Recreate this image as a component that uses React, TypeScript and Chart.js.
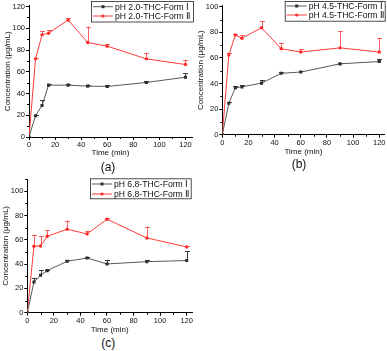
import React, { useEffect, useRef } from 'react';
import { Chart, registerables } from 'chart.js';

Chart.register(...registerables);

// ---------- data ----------
const times = [0, 5, 10, 15, 30, 45, 60, 90, 120];
const xTickValues = [0, 20, 40, 60, 80, 100, 120];
const xMinorTicks = [10, 30, 50, 70, 90, 110];

const phA = '2.0';
const aForm1 = [0, 19.6, 29, 47.7, 47.7, 46.8, 46.5, 50.2, 55];
const aForm1Err = [0, 1, 4.7, 1, 1, 1.5, 1, 1.2, 3.8];
const aForm2 = [0, 71.9, 94, 95.5, 107.7, 86.9, 83.6, 71.9, 66.7];
const aForm2Err = [0, 1, 3.6, 3, 1.6, 14.7, 2.1, 5.5, 4.3];
const aYTicks = [0, 20, 40, 60, 80, 100, 120];
const aYMinor = [10, 30, 50, 70, 90, 110];

const phB = '4.5';
const bForm1 = [0, 24.6, 36.7, 37.4, 40.3, 48, 49, 55.4, 57.2];
const bForm1Err = [0, 1, 1.5, 1.3, 2.3, 0.8, 0.8, 0.8, 1.8];
const bForm2 = [0, 62.3, 78, 75.4, 83.6, 67.2, 64.6, 67.9, 64.6];
const bForm2Err = [0, 1.5, 0.8, 2.6, 5.1, 4.6, 2.3, 13.1, 10.8];
const bYTicks = [0, 20, 40, 60, 80, 100];
const bYMinor = [10, 30, 50, 70, 90];

const phC = '6.8';
const cForm1 = [0, 25.3, 30.8, 34.6, 42.3, 45, 40.1, 42, 42.9];
const cForm1Err = [0, 3.5, 4.1, 0.8, 0.8, 0.8, 3.3, 1.1, 7.6];
const cForm2 = [0, 54.7, 54.9, 62.9, 68.7, 64.8, 76.9, 61.5, 54.1];
const cForm2Err = [0, 9.6, 8.3, 5, 7.1, 2.2, 1, 9.4, 1];
const cYTicks = [0, 20, 40, 60, 80, 100];
const cYMinor = [10, 30, 50, 70, 90, 110];

const xTitle = 'Time (min)';
const yTitle = 'Concentration (μg/mL)';

// ---------- styles ----------
const FONT = "'Liberation Sans', Arial, Helvetica, sans-serif";
const GRAY_LINE = '#5a5a5a';
const GRAY_PT = '#2e2e2e';
const GRAY_ERR = '#3a3a3a';
const RED_LINE = '#ff3c3c';
const RED_PT = '#ff2a2a';
const RED_ERR = 'rgba(255,70,70,0.85)';

type Panel = {
  tag: string; ph: string;
  left: number; top: number; w: number; h: number;
  area: { l: number; t: number; r: number; b: number };
  xTitleY: number; yTitleX: number;
  xMax: number; yMax: number;
  yTicks: number[]; yMinor: number[];
  f1: number[]; f1e: number[]; f2: number[]; f2e: number[];
  legend: { x: number; y: number; w: number; h: number; rows: number[] };
  tagPos: { x: number; y: number };
};

const panels: Panel[] = [
  {
    tag: '(a)', ph: phA, left: 0, top: 0, w: 195, h: 160,
    area: { l: 29, t: 5, r: 192, b: 137 }, xTitleY: 152.7, yTitleX: 8,
    xMax: 125, yMax: 121, yTicks: aYTicks, yMinor: aYMinor,
    f1: aForm1, f1e: aForm1Err, f2: aForm2, f2e: aForm2Err,
    legend: { x: 91, y: 1, w: 103, h: 21.5, rows: [6.7, 16] },
    tagPos: { x: 108, y: 166.7 },
  },
  {
    tag: '(b)', ph: phB, left: 193, top: 0, w: 194, h: 160,
    area: { l: 29.3, t: 3.4, r: 191.5, b: 134.7 }, xTitleY: 151.7, yTitleX: 7.3,
    xMax: 124, yMax: 101, yTicks: bYTicks, yMinor: bYMinor,
    f1: bForm1, f1e: bForm1Err, f2: bForm2, f2e: bForm2Err,
    legend: { x: 91.7, y: 1, w: 101, h: 20.7, rows: [6, 15] },
    tagPos: { x: 299, y: 164.3 },
  },
  {
    tag: '(c)', ph: phC, left: 0, top: 170, w: 195, h: 165,
    area: { l: 27.3, t: 9, r: 192, b: 142.7 }, xTitleY: 159.3, yTitleX: 5.5,
    xMax: 124, yMax: 110, yTicks: cYTicks, yMinor: cYMinor,
    f1: cForm1, f1e: cForm1Err, f2: cForm2, f2e: cForm2Err,
    legend: { x: 90, y: 8.3, w: 101.7, h: 21, rows: [14, 24] },
    tagPos: { x: 108.3, y: 343.3 },
  },
];

// ---------- plugins ----------
const errorBarsPlugin = {
  id: 'errorBars',
  beforeDatasetsDraw(chart: any) {
    const ctx = chart.ctx;
    const yScale = chart.scales.y;
    chart.data.datasets.forEach((ds: any, di: number) => {
      const meta = chart.getDatasetMeta(di);
      if (!ds.errors) return;
      ctx.save();
      ctx.strokeStyle = ds.errColor;
      ctx.lineWidth = 1;
      meta.data.forEach((pt: any, i: number) => {
        const e = ds.errors[i];
        if (!e) return;
        const v = ds.data[i].y;
        const yTop = yScale.getPixelForValue(v + e);
        const x = Math.round(pt.x) + 0.5;
        ctx.beginPath();
        ctx.moveTo(x, pt.y);
        ctx.lineTo(x, yTop);
        ctx.moveTo(x - 2.5, Math.round(yTop) + 0.5);
        ctx.lineTo(x + 2.5, Math.round(yTop) + 0.5);
        ctx.stroke();
      });
      ctx.restore();
    });
  },
};

const minorTicksPlugin = {
  id: 'minorTicks',
  afterDraw(chart: any, _args: any, opts: any) {
    const ctx = chart.ctx;
    const { x, y } = chart.scales;
    const area = chart.chartArea;
    ctx.save();
    ctx.strokeStyle = '#000';
    ctx.lineWidth = 1;
    ctx.beginPath();
    (opts.x || []).forEach((v: number) => {
      const px = Math.round(x.getPixelForValue(v)) + 0.5;
      ctx.moveTo(px, area.bottom);
      ctx.lineTo(px, area.bottom + 2);
    });
    (opts.y || []).forEach((v: number) => {
      const py = Math.round(y.getPixelForValue(v)) + 0.5;
      ctx.moveTo(area.left, py);
      ctx.lineTo(area.left - 2, py);
    });
    ctx.stroke();
    ctx.restore();
  },
};

const boxLegendPlugin = {
  id: 'boxLegend',
  afterDraw(chart: any, _args: any, opts: any) {
    const ctx = chart.ctx;
    const b = opts.box;
    if (!b) return;
    ctx.save();
    ctx.fillStyle = '#fff';
    ctx.fillRect(b.x, b.y, b.w, b.h);
    ctx.strokeStyle = '#222';
    ctx.lineWidth = 0.8;
    ctx.strokeRect(b.x + 0.5, b.y + 0.5, b.w - 1, b.h - 1);
    chart.data.datasets.forEach((ds: any, i: number) => {
      const ry = b.rows[i];
      const x0 = b.x + 2;
      const x1 = b.x + 22;
      ctx.strokeStyle = ds.borderColor;
      ctx.lineWidth = 1;
      ctx.beginPath();
      ctx.moveTo(x0, ry);
      ctx.lineTo(x1, ry);
      ctx.stroke();
      const mx = (x0 + x1) / 2;
      ctx.fillStyle = ds.pointBackgroundColor;
      if (ds.pointStyle === 'rect') {
        ctx.fillRect(mx - 1.5, ry - 1.5, 3, 3);
      } else {
        ctx.beginPath();
        ctx.arc(mx, ry, 1.6, 0, Math.PI * 2);
        ctx.fill();
      }
      ctx.fillStyle = '#111';
      ctx.font = `8.6px ${FONT}`;
      ctx.textBaseline = 'middle';
      ctx.textAlign = 'left';
      ctx.fillText(ds.label, x1 + 2, ry + 0.5);
    });
    ctx.restore();
  },
};

function buildConfig(p: Panel): any {
  const titleLH = 9.6;
  const xh = p.xTitleY + titleLH / 2 - p.area.b;
  const tickFont = { family: FONT, size: 7.5 };
  const titleFont = { family: FONT, size: 8 };
  return {
    type: 'line',
    data: {
      datasets: [
        {
          label: `pH ${p.ph}-THC-Form Ⅰ`,
          data: times.map((t, i) => ({ x: t, y: p.f1[i] })),
          errors: p.f1e,
          errColor: GRAY_ERR,
          borderColor: GRAY_LINE,
          borderWidth: 1,
          pointStyle: 'rect',
          pointRadius: 2.2,
          pointBorderWidth: 0,
          pointBackgroundColor: GRAY_PT,
          tension: 0,
        },
        {
          label: `pH ${p.ph}-THC-Form Ⅱ`,
          data: times.map((t, i) => ({ x: t, y: p.f2[i] })),
          errors: p.f2e,
          errColor: RED_ERR,
          borderColor: RED_LINE,
          borderWidth: 1,
          pointStyle: 'circle',
          pointRadius: 1.7,
          pointBorderWidth: 0,
          pointBackgroundColor: RED_PT,
          tension: 0,
        },
      ],
    },
    options: {
      responsive: false,
      animation: false,
      events: [],
      layout: {
        autoPadding: false,
        padding: { left: 0, top: p.area.t, right: p.w - p.area.r, bottom: p.h - p.area.b - xh },
      },
      plugins: {
        legend: { display: false },
        tooltip: { enabled: false },
        boxLegend: { box: p.legend },
        minorTicks: { x: xMinorTicks, y: p.yMinor },
      },
      scales: {
        x: {
          type: 'linear',
          min: 0,
          max: p.xMax,
          afterBuildTicks: (s: any) => { s.ticks = xTickValues.map((v) => ({ value: v })); },
          afterFit: (s: any) => { s.height = xh; },
          ticks: { font: tickFont, color: '#111', padding: 0.5, maxRotation: 0, autoSkip: false },
          grid: { drawOnChartArea: false, drawTicks: true, tickLength: 3, tickColor: '#000', tickWidth: 1 },
          border: { display: true, color: '#000', width: 1 },
          title: { display: true, text: xTitle, font: titleFont, color: '#111', padding: { top: 0, bottom: 0 } },
        },
        y: {
          type: 'linear',
          min: 0,
          max: p.yMax,
          afterBuildTicks: (s: any) => { s.ticks = p.yTicks.map((v) => ({ value: v })); },
          afterFit: (s: any) => { s.width = p.area.l; },
          ticks: { font: tickFont, color: '#111', padding: 1 },
          grid: { drawOnChartArea: false, drawTicks: true, tickLength: 3, tickColor: '#000', tickWidth: 1 },
          border: { display: true, color: '#000', width: 1 },
          title: { display: true, text: yTitle, font: titleFont, color: '#111', padding: { top: Math.max(0, p.yTitleX - titleLH / 2), bottom: 0 } },
        },
      },
    },
    plugins: [errorBarsPlugin, minorTicksPlugin, boxLegendPlugin],
  };
}

function PanelChart({ p }: { p: Panel }) {
  const ref = useRef<HTMLCanvasElement | null>(null);
  useEffect(() => {
    if (!ref.current) return;
    const chart = new Chart(ref.current, buildConfig(p));
    return () => chart.destroy();
  }, [p]);
  return (
    <canvas
      ref={ref}
      width={p.w}
      height={p.h}
      style={{ position: 'absolute', left: p.left, top: p.top, width: p.w, height: p.h }}
    />
  );
}

export default function App() {
  return (
    <div style={{ position: 'absolute', left: 0, top: 0, width: 387, height: 351, background: '#fff', overflow: 'hidden' }}>
      {panels.map((p) => (
        <PanelChart key={p.tag} p={p} />
      ))}
      {panels.map((p) => (
        <div
          key={p.tag + '-t'}
          style={{
            position: 'absolute',
            left: p.tagPos.x - 20,
            top: p.tagPos.y - 8,
            width: 40,
            height: 16,
            lineHeight: '16px',
            textAlign: 'center',
            fontFamily: FONT,
            fontSize: 12,
            color: '#111',
          }}
        >
          {p.tag}
        </div>
      ))}
    </div>
  );
}
